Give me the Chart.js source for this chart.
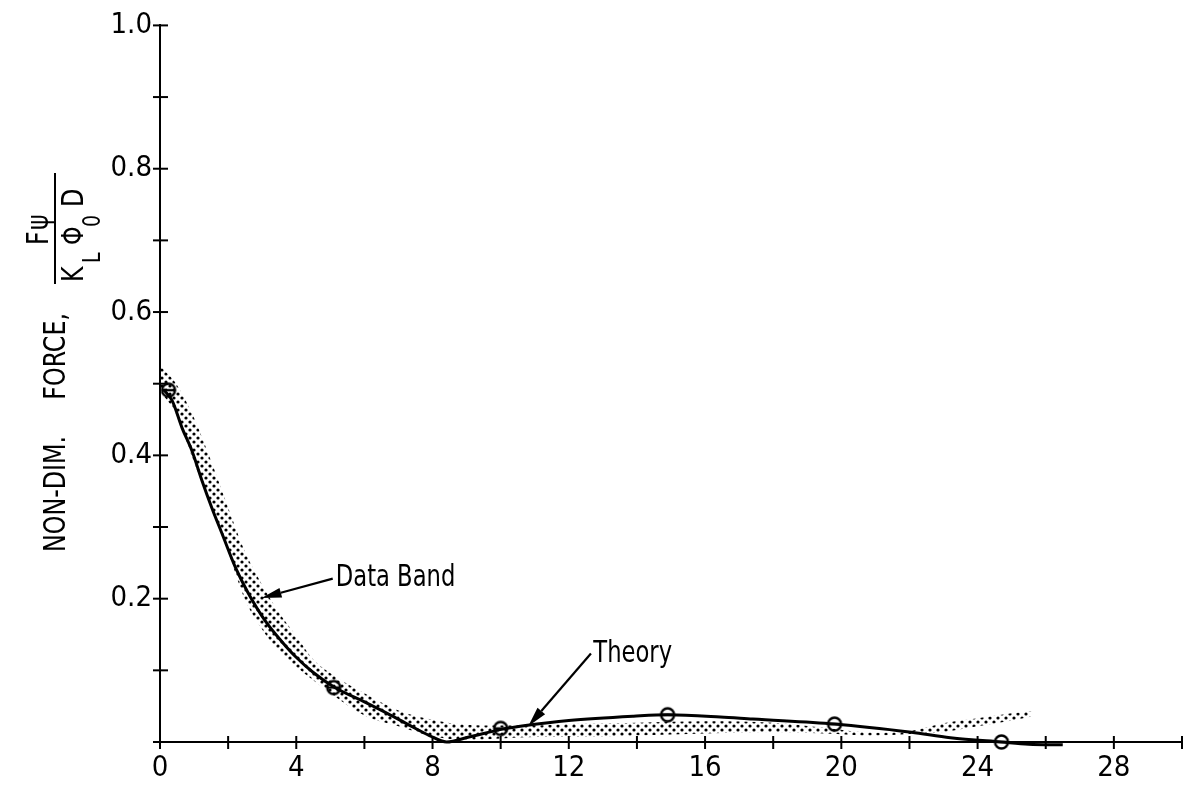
<!DOCTYPE html>
<html>
<head>
<meta charset="utf-8">
<script src="https://cdn.jsdelivr.net/npm/chart.js@4.4.0/dist/chart.umd.min.js"></script>
<style>
  html, body { margin: 0; padding: 0; background: #fff; }
  #wrap { width: 1193px; height: 792px; position: relative; }
</style>
</head>
<body>
<div id="wrap"><canvas id="c" width="1193" height="792"></canvas></div>
<script>
const FONT = "'Liberation Sans Narrow', 'DejaVu Sans Condensed', 'Arial Narrow', sans-serif";

// Theory curve
const theoryX = [0.1, 0.36, 0.65, 0.94, 1.23, 1.52, 1.82, 2.22, 2.6, 3.09, 3.56, 3.96, 4.5, 5.13, 6.0, 6.67, 7.3, 7.91, 8.41, 9.07, 10.06, 10.73, 12.0, 13.9, 14.9, 16.45, 17.4, 19.8, 22.06, 23.2, 24.7, 25.5, 26.5];
const theoryY = [0.492, 0.476, 0.438, 0.406, 0.365, 0.327, 0.291, 0.243, 0.207, 0.169, 0.141, 0.120, 0.097, 0.076, 0.056, 0.040, 0.024, 0.009, 0.0, 0.007, 0.018, 0.023, 0.030, 0.036, 0.038, 0.035, 0.032, 0.025, 0.0135, 0.006, 0.0, -0.003, -0.004];

// Measured points
const pointX = [0.25, 5.1, 10.0, 14.9, 19.8, 24.7];
const pointY = [0.491, 0.076, 0.019, 0.038, 0.025, 0.0];

// Data band edges
const bandX     = [0, 0.5, 1, 1.5, 2, 2.5, 3, 3.5, 4, 4.5, 5, 6, 7, 8, 9, 10, 11, 12, 14, 16, 18, 19.5, 21, 22, 23, 24, 25, 25.6];
const bandUpper = [0.525, 0.498, 0.452, 0.392, 0.327, 0.265, 0.219, 0.180, 0.148, 0.115, 0.096, 0.068, 0.044, 0.031, 0.024, 0.023, 0.023, 0.025, 0.027, 0.029, 0.027, 0.020, 0.013, 0.015, 0.026, 0.033, 0.040, 0.043];
const bandLower = [0.490, 0.455, 0.390, 0.328, 0.265, 0.198, 0.157, 0.126, 0.105, 0.086, 0.068, 0.037, 0.022, 0.008, 0.003, 0.005, 0.007, 0.007, 0.009, 0.012, 0.014, 0.012, 0.009, 0.011, 0.014, 0.022, 0.030, 0.036];

// Axis ticks and labels
const xTicks = [0, 2, 4, 6, 8, 10, 12, 14, 16, 18, 20, 22, 24, 26, 28, 30];
const xTickLabels = ['0', '', '4', '', '8', '', '12', '', '16', '', '20', '', '24', '', '28', ''];
const yTicks = [0, 0.1, 0.2, 0.3, 0.4, 0.5, 0.6, 0.7, 0.8, 0.9, 1.0];
const yTickLabels = ['', '', '0.2', '', '0.4', '', '0.6', '', '0.8', '', '1.0'];

// Annotation labels with arrows (data coordinates)
const notes = [
  { text: 'Data Band', x: 5.16, y: 0.229, from: [5.07, 0.228], to: [2.98, 0.201] },
  { text: 'Theory', x: 12.72, y: 0.122, from: [12.65, 0.1235], to: [10.81, 0.022] }
];

const xy = (xs, ys) => xs.map((x, i) => ({ x, y: ys[i] }));

const canvas = document.getElementById('c');
const ctx = canvas.getContext('2d');

// Staggered halftone dots for the band fill
function dotPattern() {
  const c = document.createElement('canvas');
  c.width = 8; c.height = 8;
  const g = c.getContext('2d');
  g.fillStyle = '#000';
  [[2, 2], [6, 6]].forEach(([x, y]) => {
    g.beginPath(); g.arc(x, y, 1.6, 0, Math.PI * 2); g.fill();
  });
  return ctx.createPattern(c, 'repeat');
}

function thetaMark() {
  const c = document.createElement('canvas');
  c.width = 20; c.height = 20;
  const g = c.getContext('2d');
  g.strokeStyle = '#000'; g.lineWidth = 2.4;
  g.beginPath(); g.arc(10, 10, 6.5, 0, Math.PI * 2); g.stroke();
  g.beginPath(); g.moveTo(3.5, 10); g.lineTo(16.5, 10); g.stroke();
  return c;
}

// Tick marks crossing both axes
const crossTicks = {
  id: 'crossTicks',
  afterDraw(chart) {
    const { ctx: g, chartArea: a, scales: { x, y } } = chart;
    g.save();
    g.strokeStyle = '#000'; g.lineWidth = 2;
    yTicks.forEach(v => {
      const p = y.getPixelForValue(v);
      g.beginPath(); g.moveTo(a.left - 7, p); g.lineTo(a.left + 8, p); g.stroke();
    });
    xTicks.forEach(v => {
      const p = x.getPixelForValue(v);
      g.beginPath(); g.moveTo(p, a.bottom - 6); g.lineTo(p, a.bottom + 7); g.stroke();
    });
    g.restore();
  }
};

// Rotated axis title with the force ratio
const yTitle = {
  id: 'yTitle',
  afterDraw(chart) {
    const g = chart.ctx;
    g.save();
    g.fillStyle = '#000'; g.strokeStyle = '#000';
    const put = (txt, px, py, size, align) => {
      g.save();
      g.translate(px, py);
      g.rotate(-Math.PI / 2);
      g.scale(0.88, 1);
      g.font = size + 'px ' + FONT;
      g.textAlign = align;
      g.textBaseline = 'alphabetic';
      g.fillText(txt, 0, 0);
      g.restore();
    };
    put('NON-DIM.', 65, 552, 30, 'left');
    put('FORCE,', 65, 313, 30, 'right');
    // numerator
    put('F', 48, 245, 30, 'left');
    put('\u03C8', 48, 230, 30, 'left');
    // fraction bar
    g.lineWidth = 2;
    g.beginPath(); g.moveTo(55, 173); g.lineTo(55, 284); g.stroke();
    // denominator
    put('K', 83, 282, 30, 'left');
    put('L', 100, 263, 24, 'left');
    put('\u03A6', 83, 245, 30, 'left');
    put('0', 100, 227, 24, 'left');
    put('D', 83, 207, 30, 'left');
    g.restore();
  }
};

// Labels with arrows
const arrowNotes = {
  id: 'arrowNotes',
  afterDraw(chart) {
    const { ctx: g, scales: { x, y } } = chart;
    g.save();
    g.fillStyle = '#000'; g.strokeStyle = '#000';
    notes.forEach(n => {
      g.save();
      g.translate(x.getPixelForValue(n.x), y.getPixelForValue(n.y));
      g.scale(0.84, 1);
      g.font = '30px ' + FONT;
      g.textAlign = 'left'; g.textBaseline = 'middle';
      g.fillText(n.text, 0, 0);
      g.restore();
      const x0 = x.getPixelForValue(n.from[0]), y0 = y.getPixelForValue(n.from[1]);
      const x1 = x.getPixelForValue(n.to[0]), y1 = y.getPixelForValue(n.to[1]);
      const ang = Math.atan2(y1 - y0, x1 - x0);
      const len = 20, half = 5;
      const bx = x1 - len * Math.cos(ang), by = y1 - len * Math.sin(ang);
      g.lineWidth = 2.2;
      g.beginPath(); g.moveTo(x0, y0); g.lineTo(bx, by); g.stroke();
      g.beginPath();
      g.moveTo(x1, y1);
      g.lineTo(bx + half * Math.sin(ang), by - half * Math.cos(ang));
      g.lineTo(bx - half * Math.sin(ang), by + half * Math.cos(ang));
      g.closePath(); g.fill();
    });
    g.restore();
  }
};

new Chart(canvas, {
  type: 'scatter',
  data: {
    datasets: [
      {
        label: 'Data Band',
        data: xy(bandX, bandUpper),
        showLine: true,
        borderWidth: 0,
        borderColor: 'rgba(0,0,0,0)',
        backgroundColor: dotPattern(),
        fill: '+1',
        pointRadius: 0,
        cubicInterpolationMode: 'monotone'
      },
      {
        label: 'band lower',
        data: xy(bandX, bandLower),
        showLine: true,
        borderWidth: 0,
        borderColor: 'rgba(0,0,0,0)',
        fill: false,
        pointRadius: 0,
        cubicInterpolationMode: 'monotone'
      },
      {
        label: 'Theory',
        data: xy(theoryX, theoryY),
        showLine: true,
        borderColor: '#000',
        borderWidth: 3,
        fill: false,
        pointRadius: 0,
        cubicInterpolationMode: 'monotone',
        clip: false
      },
      {
        label: 'Test points',
        data: xy(pointX, pointY),
        showLine: false,
        pointStyle: thetaMark(),
        pointRadius: 10,
        clip: false
      }
    ]
  },
  options: {
    responsive: false,
    animation: false,
    devicePixelRatio: 1,
    layout: { padding: { top: 23, right: 0, left: 0, bottom: 0 } },
    plugins: { legend: { display: false }, tooltip: { enabled: false } },
    scales: {
      x: {
        type: 'linear',
        min: 0, max: 30,
        afterFit(s) { s.height = 50; },
        afterBuildTicks(s) { s.ticks = xTicks.map(v => ({ value: v })); },
        grid: { display: false, drawTicks: false },
        border: { display: true, color: '#000', width: 2 },
        ticks: {
          autoSkip: false, maxRotation: 0, padding: 9, color: '#000',
          font: { family: FONT, size: 29 },
          callback: (v, i) => xTickLabels[i]
        }
      },
      y: {
        type: 'linear',
        min: 0, max: 1,
        afterFit(s) { s.width = 160; },
        afterBuildTicks(s) { s.ticks = yTicks.map(v => ({ value: v })); },
        grid: { display: false, drawTicks: false },
        border: { display: true, color: '#000', width: 2 },
        ticks: {
          autoSkip: false, padding: 8, color: '#000',
          font: { family: FONT, size: 29 },
          callback: (v, i) => yTickLabels[i]
        }
      }
    }
  },
  plugins: [crossTicks, yTitle, arrowNotes]
});
</script>
</body>
</html>
